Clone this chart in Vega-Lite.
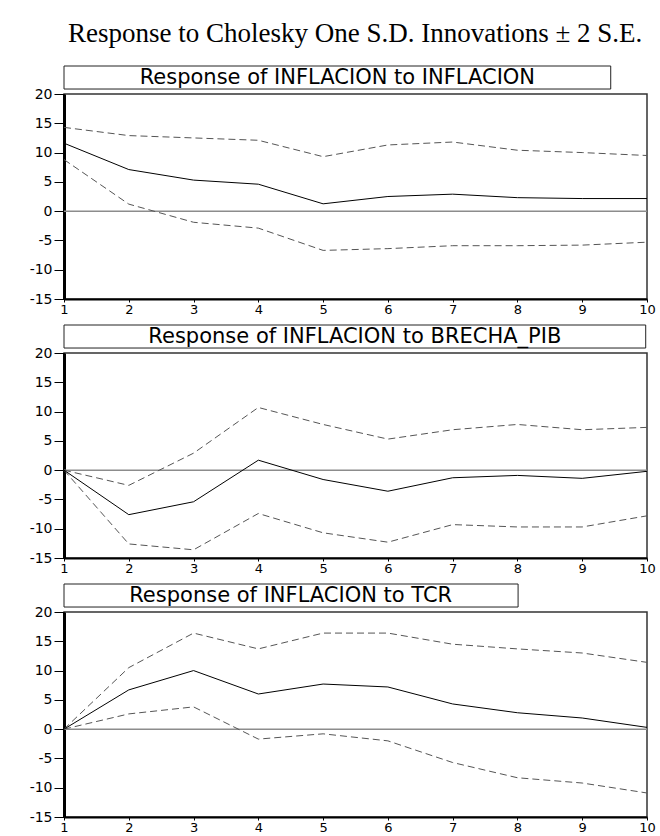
{
  "$schema": "https://vega.github.io/schema/vega-lite/v6.json",
  "background": "white",
  "padding": {"left": 28, "top": 19, "right": 5, "bottom": 0},
  "title": {"text": "Response to Cholesky One S.D. Innovations ± 2 S.E.", "font": "Liberation Serif", "fontSize": 27, "fontWeight": "normal", "color": "black", "anchor": "middle", "offset": 17, "dx": 13},
  "bounds": "flush",
  "spacing": 54,
  "config": {
    "view": {"stroke": "#333", "strokeWidth": 1.5},
    "axis": {"grid": false, "labelFont": "DejaVu Sans", "labelColor": "black", "domainColor": "black", "tickColor": "black", "labelOverlap": false},
    "axisY": {"domainWidth": 3, "tickSize": 10, "tickWidth": 1, "labelFontSize": 14, "labelPadding": 2},
    "axisX": {"domainWidth": 2, "tickSize": 3, "tickWidth": 1, "labelFontSize": 13, "labelPadding": 1, "labelFlush": false}
  },
  "datasets": {
    "p1": [
      {"h": 1, "lo": 8.8, "mid": 11.6, "hi": 14.3},
      {"h": 2, "lo": 1.2, "mid": 7.1, "hi": 12.9},
      {"h": 3, "lo": -1.9, "mid": 5.3, "hi": 12.5},
      {"h": 4, "lo": -2.9, "mid": 4.6, "hi": 12.1},
      {"h": 5, "lo": -6.7, "mid": 1.25, "hi": 9.3},
      {"h": 6, "lo": -6.4, "mid": 2.5, "hi": 11.3},
      {"h": 7, "lo": -5.9, "mid": 2.9, "hi": 11.8},
      {"h": 8, "lo": -5.9, "mid": 2.3, "hi": 10.4},
      {"h": 9, "lo": -5.8, "mid": 2.15, "hi": 10.0},
      {"h": 10, "lo": -5.3, "mid": 2.15, "hi": 9.5}
    ],
    "p2": [
      {"h": 1, "lo": 0, "mid": 0, "hi": 0},
      {"h": 2, "lo": -12.6, "mid": -7.6, "hi": -2.6},
      {"h": 3, "lo": -13.6, "mid": -5.4, "hi": 2.9},
      {"h": 4, "lo": -7.4, "mid": 1.7, "hi": 10.7},
      {"h": 5, "lo": -10.7, "mid": -1.6, "hi": 7.8},
      {"h": 6, "lo": -12.3, "mid": -3.6, "hi": 5.3},
      {"h": 7, "lo": -9.3, "mid": -1.3, "hi": 6.9},
      {"h": 8, "lo": -9.7, "mid": -0.9, "hi": 7.8},
      {"h": 9, "lo": -9.7, "mid": -1.4, "hi": 6.9},
      {"h": 10, "lo": -7.8, "mid": -0.2, "hi": 7.3}
    ],
    "p3": [
      {"h": 1, "lo": 0, "mid": 0, "hi": 0},
      {"h": 2, "lo": 2.6, "mid": 6.7, "hi": 10.5},
      {"h": 3, "lo": 3.8, "mid": 10.0, "hi": 16.4},
      {"h": 4, "lo": -1.7, "mid": 6.0, "hi": 13.7},
      {"h": 5, "lo": -0.8, "mid": 7.7, "hi": 16.4},
      {"h": 6, "lo": -2.0, "mid": 7.2, "hi": 16.4},
      {"h": 7, "lo": -5.7, "mid": 4.3, "hi": 14.5},
      {"h": 8, "lo": -8.3, "mid": 2.8, "hi": 13.7},
      {"h": 9, "lo": -9.2, "mid": 1.9, "hi": 13.0},
      {"h": 10, "lo": -10.9, "mid": 0.3, "hi": 11.4}
    ]
  },
  "vconcat": [
    {
      "width": 583, "height": 205,
      "layer": [
        {"data": {"values": [{}]}, "mark": {"type": "rule", "color": "#8c8c8c", "strokeWidth": 1.5},
         "encoding": {"y": {"datum": 0, "type": "quantitative", "scale": {"domain": [-15, 20], "nice": false, "zero": false}, "axis": {"title": null, "values": [-15,-10,-5,0,5,10,15,20], "labelExpr": "datum.value < 0 ? '-' + (-datum.value) : '' + datum.value"}}}},
        {"data": {"name": "p1"}, "mark": {"type": "line", "color": "#555", "strokeWidth": 1, "strokeDash": [7, 4]},
         "encoding": {
           "x": {"field": "h", "type": "quantitative", "scale": {"domain": [1, 10], "nice": false, "zero": false}, "axis": {"title": null, "values": [1,2,3,4,5,6,7,8,9,10]}},
           "y": {"field": "hi", "type": "quantitative", "scale": {"domain": [-15, 20], "nice": false, "zero": false}, "axis": {"title": null, "values": [-15,-10,-5,0,5,10,15,20], "labelExpr": "datum.value < 0 ? '-' + (-datum.value) : '' + datum.value"}}}},
        {"data": {"name": "p1"}, "mark": {"type": "line", "color": "#555", "strokeWidth": 1, "strokeDash": [7, 4]},
         "encoding": {
           "x": {"field": "h", "type": "quantitative", "scale": {"domain": [1, 10], "nice": false, "zero": false}, "axis": {"title": null, "values": [1,2,3,4,5,6,7,8,9,10]}},
           "y": {"field": "lo", "type": "quantitative", "scale": {"domain": [-15, 20], "nice": false, "zero": false}, "axis": {"title": null, "values": [-15,-10,-5,0,5,10,15,20], "labelExpr": "datum.value < 0 ? '-' + (-datum.value) : '' + datum.value"}}}},
        {"data": {"name": "p1"}, "mark": {"type": "line", "color": "black", "strokeWidth": 1},
         "encoding": {
           "x": {"field": "h", "type": "quantitative", "scale": {"domain": [1, 10], "nice": false, "zero": false}, "axis": {"title": null, "values": [1,2,3,4,5,6,7,8,9,10]}},
           "y": {"field": "mid", "type": "quantitative", "scale": {"domain": [-15, 20], "nice": false, "zero": false}, "axis": {"title": null, "values": [-15,-10,-5,0,5,10,15,20], "labelExpr": "datum.value < 0 ? '-' + (-datum.value) : '' + datum.value"}}}},
        {"data": {"values": [{}]}, "mark": {"type": "rect", "fill": "white", "stroke": "#222", "strokeWidth": 1, "clip": false},
         "encoding": {"x": {"datum": 1, "type": "quantitative", "axis": {"title": null, "values": [1,2,3,4,5,6,7,8,9,10]}}, "x2": {"datum": 9.44}, "y": {"datum": 20.85, "type": "quantitative", "axis": {"title": null, "values": [-15,-10,-5,0,5,10,15,20], "labelExpr": "datum.value < 0 ? '-' + (-datum.value) : '' + datum.value"}}, "y2": {"datum": 24.78}}},
        {"data": {"values": [{}]}, "mark": {"type": "text", "font": "DejaVu Sans", "fontSize": 21, "color": "black", "align": "center", "baseline": "middle", "clip": false, "text": "Response of INFLACION to INFLACION"},
         "encoding": {"x": {"datum": 5.22, "type": "quantitative", "axis": {"title": null, "values": [1,2,3,4,5,6,7,8,9,10]}}, "y": {"datum": 22.8, "type": "quantitative", "axis": {"title": null, "values": [-15,-10,-5,0,5,10,15,20], "labelExpr": "datum.value < 0 ? '-' + (-datum.value) : '' + datum.value"}}}}
      ]
    },
    {
      "width": 583, "height": 205,
      "layer": [
        {"data": {"values": [{}]}, "mark": {"type": "rule", "color": "#8c8c8c", "strokeWidth": 1.5},
         "encoding": {"y": {"datum": 0, "type": "quantitative", "scale": {"domain": [-15, 20], "nice": false, "zero": false}, "axis": {"title": null, "values": [-15,-10,-5,0,5,10,15,20], "labelExpr": "datum.value < 0 ? '-' + (-datum.value) : '' + datum.value"}}}},
        {"data": {"name": "p2"}, "mark": {"type": "line", "color": "#555", "strokeWidth": 1, "strokeDash": [7, 4]},
         "encoding": {
           "x": {"field": "h", "type": "quantitative", "scale": {"domain": [1, 10], "nice": false, "zero": false}, "axis": {"title": null, "values": [1,2,3,4,5,6,7,8,9,10]}},
           "y": {"field": "hi", "type": "quantitative", "scale": {"domain": [-15, 20], "nice": false, "zero": false}, "axis": {"title": null, "values": [-15,-10,-5,0,5,10,15,20], "labelExpr": "datum.value < 0 ? '-' + (-datum.value) : '' + datum.value"}}}},
        {"data": {"name": "p2"}, "mark": {"type": "line", "color": "#555", "strokeWidth": 1, "strokeDash": [7, 4]},
         "encoding": {
           "x": {"field": "h", "type": "quantitative", "scale": {"domain": [1, 10], "nice": false, "zero": false}, "axis": {"title": null, "values": [1,2,3,4,5,6,7,8,9,10]}},
           "y": {"field": "lo", "type": "quantitative", "scale": {"domain": [-15, 20], "nice": false, "zero": false}, "axis": {"title": null, "values": [-15,-10,-5,0,5,10,15,20], "labelExpr": "datum.value < 0 ? '-' + (-datum.value) : '' + datum.value"}}}},
        {"data": {"name": "p2"}, "mark": {"type": "line", "color": "black", "strokeWidth": 1},
         "encoding": {
           "x": {"field": "h", "type": "quantitative", "scale": {"domain": [1, 10], "nice": false, "zero": false}, "axis": {"title": null, "values": [1,2,3,4,5,6,7,8,9,10]}},
           "y": {"field": "mid", "type": "quantitative", "scale": {"domain": [-15, 20], "nice": false, "zero": false}, "axis": {"title": null, "values": [-15,-10,-5,0,5,10,15,20], "labelExpr": "datum.value < 0 ? '-' + (-datum.value) : '' + datum.value"}}}},
        {"data": {"values": [{}]}, "mark": {"type": "rect", "fill": "white", "stroke": "#222", "strokeWidth": 1, "clip": false},
         "encoding": {"x": {"datum": 1, "type": "quantitative", "axis": {"title": null, "values": [1,2,3,4,5,6,7,8,9,10]}}, "x2": {"datum": 9.98}, "y": {"datum": 20.85, "type": "quantitative", "axis": {"title": null, "values": [-15,-10,-5,0,5,10,15,20], "labelExpr": "datum.value < 0 ? '-' + (-datum.value) : '' + datum.value"}}, "y2": {"datum": 24.78}}},
        {"data": {"values": [{}]}, "mark": {"type": "text", "font": "DejaVu Sans", "fontSize": 21, "color": "black", "align": "center", "baseline": "middle", "clip": false, "text": "Response of INFLACION to BRECHA_PIB"},
         "encoding": {"x": {"datum": 5.49, "type": "quantitative", "axis": {"title": null, "values": [1,2,3,4,5,6,7,8,9,10]}}, "y": {"datum": 22.8, "type": "quantitative", "axis": {"title": null, "values": [-15,-10,-5,0,5,10,15,20], "labelExpr": "datum.value < 0 ? '-' + (-datum.value) : '' + datum.value"}}}}
      ]
    },
    {
      "width": 583, "height": 205,
      "layer": [
        {"data": {"values": [{}]}, "mark": {"type": "rule", "color": "#8c8c8c", "strokeWidth": 1.5},
         "encoding": {"y": {"datum": 0, "type": "quantitative", "scale": {"domain": [-15, 20], "nice": false, "zero": false}, "axis": {"title": null, "values": [-15,-10,-5,0,5,10,15,20], "labelExpr": "datum.value < 0 ? '-' + (-datum.value) : '' + datum.value"}}}},
        {"data": {"name": "p3"}, "mark": {"type": "line", "color": "#555", "strokeWidth": 1, "strokeDash": [7, 4]},
         "encoding": {
           "x": {"field": "h", "type": "quantitative", "scale": {"domain": [1, 10], "nice": false, "zero": false}, "axis": {"title": null, "values": [1,2,3,4,5,6,7,8,9,10]}},
           "y": {"field": "hi", "type": "quantitative", "scale": {"domain": [-15, 20], "nice": false, "zero": false}, "axis": {"title": null, "values": [-15,-10,-5,0,5,10,15,20], "labelExpr": "datum.value < 0 ? '-' + (-datum.value) : '' + datum.value"}}}},
        {"data": {"name": "p3"}, "mark": {"type": "line", "color": "#555", "strokeWidth": 1, "strokeDash": [7, 4]},
         "encoding": {
           "x": {"field": "h", "type": "quantitative", "scale": {"domain": [1, 10], "nice": false, "zero": false}, "axis": {"title": null, "values": [1,2,3,4,5,6,7,8,9,10]}},
           "y": {"field": "lo", "type": "quantitative", "scale": {"domain": [-15, 20], "nice": false, "zero": false}, "axis": {"title": null, "values": [-15,-10,-5,0,5,10,15,20], "labelExpr": "datum.value < 0 ? '-' + (-datum.value) : '' + datum.value"}}}},
        {"data": {"name": "p3"}, "mark": {"type": "line", "color": "black", "strokeWidth": 1},
         "encoding": {
           "x": {"field": "h", "type": "quantitative", "scale": {"domain": [1, 10], "nice": false, "zero": false}, "axis": {"title": null, "values": [1,2,3,4,5,6,7,8,9,10]}},
           "y": {"field": "mid", "type": "quantitative", "scale": {"domain": [-15, 20], "nice": false, "zero": false}, "axis": {"title": null, "values": [-15,-10,-5,0,5,10,15,20], "labelExpr": "datum.value < 0 ? '-' + (-datum.value) : '' + datum.value"}}}},
        {"data": {"values": [{}]}, "mark": {"type": "rect", "fill": "white", "stroke": "#222", "strokeWidth": 1, "clip": false},
         "encoding": {"x": {"datum": 1, "type": "quantitative", "axis": {"title": null, "values": [1,2,3,4,5,6,7,8,9,10]}}, "x2": {"datum": 8.01}, "y": {"datum": 20.85, "type": "quantitative", "axis": {"title": null, "values": [-15,-10,-5,0,5,10,15,20], "labelExpr": "datum.value < 0 ? '-' + (-datum.value) : '' + datum.value"}}, "y2": {"datum": 24.78}}},
        {"data": {"values": [{}]}, "mark": {"type": "text", "font": "DejaVu Sans", "fontSize": 21, "color": "black", "align": "center", "baseline": "middle", "clip": false, "text": "Response of INFLACION to TCR"},
         "encoding": {"x": {"datum": 4.5, "type": "quantitative", "axis": {"title": null, "values": [1,2,3,4,5,6,7,8,9,10]}}, "y": {"datum": 22.8, "type": "quantitative", "axis": {"title": null, "values": [-15,-10,-5,0,5,10,15,20], "labelExpr": "datum.value < 0 ? '-' + (-datum.value) : '' + datum.value"}}}}
      ]
    }
  ]
}
